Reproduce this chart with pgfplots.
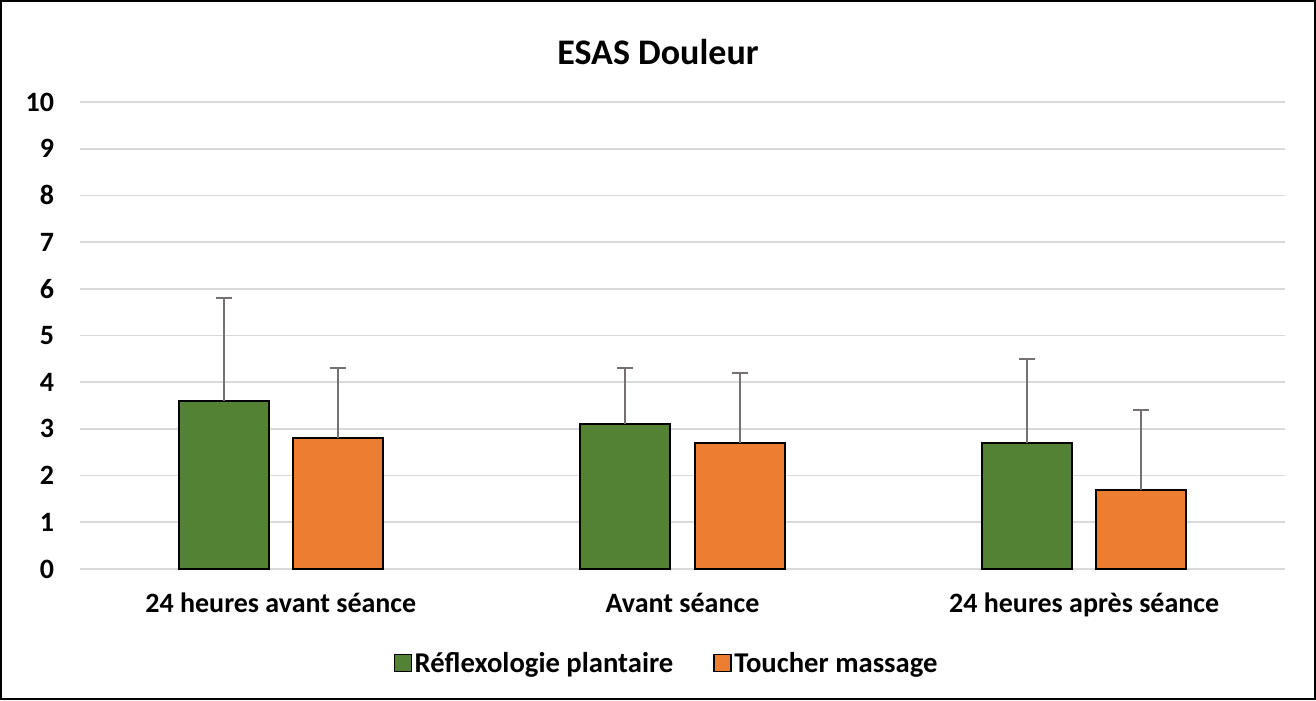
\documentclass[border=0pt]{standalone}
\usepackage{pgfplots}
\pgfplotsset{compat=1.18}
\usepackage{fontspec}
\setmainfont{Carlito}
\definecolor{cgreen}{HTML}{548235}
\definecolor{corange}{HTML}{ED7D31}
\definecolor{cgrid}{HTML}{D9D9D9}
\definecolor{cerr}{HTML}{767171}
\begin{document}
\begin{tikzpicture}
\useasboundingbox (0,0) rectangle (987pt,525pt);
\draw[line width=1.5pt] (0.75pt,0.75pt) rectangle (986.25pt,524.25pt);
\node[font=\bfseries\fontsize{27}{32}\selectfont] at (493.5pt,486pt) {ESAS Douleur};
\begin{axis}[
  at={(60pt,98.25pt)}, anchor=south west,
  scale only axis, width=903.75pt, height=350.25pt,
  ybar,
  xmin=-0.5, xmax=2.5, ymin=0, ymax=10,
  xtick={0,1,2},
  xticklabels={24 heures avant séance, Avant séance, 24 heures après séance},
  ytick={0,1,...,10},
  major tick length=0pt,
  axis line style={draw=none},
  ymajorgrids, grid style={cgrid, line width=1.3pt},
  /pgf/number format/assume math mode=true,
  tick label style={font=\bfseries\fontsize{21}{25}\selectfont},
  yticklabel style={anchor=east, xshift=-16pt},
  xticklabel style={anchor=base, yshift=-32.25pt},
  legend style={at={(0.4871,0)}, anchor=center, yshift=-70.5pt, draw=none,
    font=\bfseries\fontsize{21.5}{25}\selectfont, /tikz/every even column/.append style={column sep=28pt}},
  legend columns=2,
  legend image code/.code={\draw[#1, line width=1pt, draw=black] (0pt,-6.4pt) rectangle (12.75pt,6.4pt);},
]
\addplot[fill=cgreen, draw=black, line width=1.5pt, bar width=0.224, bar shift=-0.142,
  error bars/.cd, y dir=plus, y explicit,
  error bar style={line width=1.5pt, draw=cerr},
  error mark options={draw=cerr, line width=1.5pt, mark size=6pt, rotate=90}]
  table[x=x, y=y, y error=e] {
x y e
0 3.6 2.2
1 3.1 1.2
2 2.7 1.8
};
\addlegendentry{Réflexologie plantaire}
\addplot[fill=corange, draw=black, line width=1.5pt, bar width=0.224, bar shift=0.142,
  error bars/.cd, y dir=plus, y explicit,
  error bar style={line width=1.5pt, draw=cerr},
  error mark options={draw=cerr, line width=1.5pt, mark size=6pt, rotate=90}]
  table[x=x, y=y, y error=e] {
x y e
0 2.8 1.5
1 2.7 1.5
2 1.7 1.7
};
\addlegendentry{Toucher massage}
\end{axis}
\end{tikzpicture}
\end{document}
